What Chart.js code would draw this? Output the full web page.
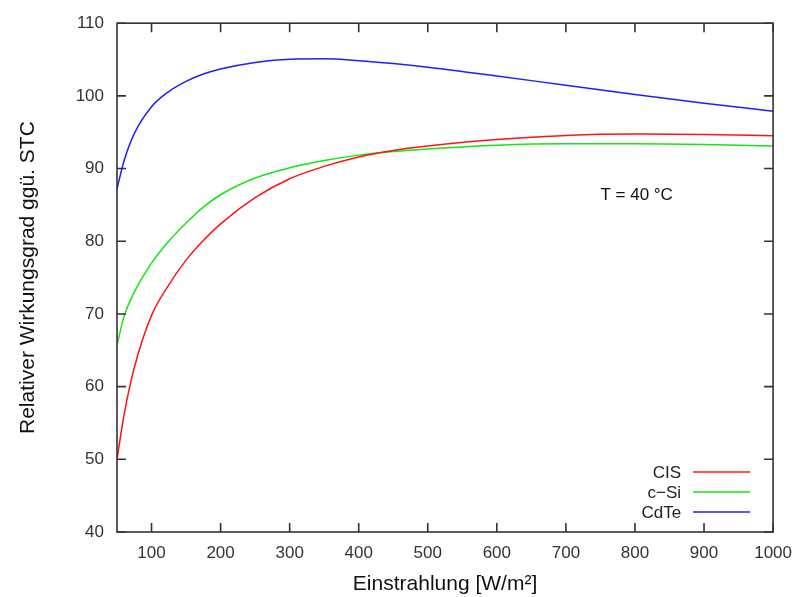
<!DOCTYPE html>
<html>
<head>
<meta charset="utf-8">
<script src="https://cdn.jsdelivr.net/npm/chart.js@4.4.0/dist/chart.umd.min.js"></script>
<style>
  html, body { margin: 0; padding: 0; background: #fff; }
  #wrap { width: 803px; height: 597px; }
</style>
</head>
<body>
<div id="wrap"><canvas id="chart" width="803" height="597"></canvas></div>
<script>
const irradiance = [50, 60, 75, 100, 125, 150, 175, 200, 250, 300, 350, 400, 450, 500, 600, 700, 800, 900, 1000];
const cisValues  = [50.0, 56.0, 62.6, 69.8, 74.0, 77.4, 80.1, 82.4, 86.0, 88.6, 90.3, 91.6, 92.5, 93.1, 94.0, 94.55, 94.75, 94.7, 94.5];
const csiValues  = [65.7, 69.6, 73.0, 77.0, 80.0, 82.5, 84.7, 86.4, 88.7, 90.1, 91.1, 91.85, 92.35, 92.7, 93.2, 93.4, 93.4, 93.3, 93.1];
const cdteValues = [87.2, 91.0, 94.8, 98.5, 100.6, 102.0, 103.0, 103.7, 104.6, 105.05, 105.1, 104.85, 104.45, 103.95, 102.75, 101.45, 100.2, 99.0, 97.9];

const seriesNames = ["CIS", "c\u2212Si", "CdTe"];
const seriesColors = ["rgb(255,20,20)", "rgb(20,230,20)", "rgb(30,30,255)"];
const xTicks = [100, 200, 300, 400, 500, 600, 700, 800, 900, 1000];
const yTicks = [40, 50, 60, 70, 80, 90, 100, 110];
const annotation = { text: "T = 40 \u00b0C", x: 750, y: 86.3 };

const FONT = "'Liberation Sans', Arial, sans-serif";
const toPoints = vals => vals.map((v, i) => ({ x: irradiance[i], y: v }));

const frame = {
    id: "frame",
    afterDatasetsDraw(chart) {
        const { ctx, chartArea: a, scales } = chart;
        ctx.save();
        ctx.strokeStyle = "#333";
        ctx.lineWidth = 1.6;
        ctx.strokeRect(a.left, a.top, a.right - a.left, a.bottom - a.top);
        ctx.beginPath();
        const len = 9;
        xTicks.forEach(v => {
            const px = scales.x.getPixelForValue(v);
            ctx.moveTo(px, a.bottom); ctx.lineTo(px, a.bottom - len);
            ctx.moveTo(px, a.top); ctx.lineTo(px, a.top + len);
        });
        yTicks.forEach(v => {
            const py = scales.y.getPixelForValue(v);
            ctx.moveTo(a.left, py); ctx.lineTo(a.left + len, py);
            ctx.moveTo(a.right, py); ctx.lineTo(a.right - len, py);
        });
        ctx.stroke();

        // annotation
        ctx.fillStyle = "#111";
        ctx.font = "17px " + FONT;
        ctx.textBaseline = "middle";
        ctx.textAlign = "left";
        ctx.fillText(annotation.text, scales.x.getPixelForValue(annotation.x), scales.y.getPixelForValue(annotation.y));

        // legend: text right-aligned, sample line to the right
        chart.data.datasets.forEach((ds, i) => {
            const y = a.bottom - 60 + i * 20;
            ctx.textAlign = "right";
            ctx.fillStyle = "#222";
            ctx.fillText(ds.label, a.right - 92, y + 1);
            ctx.strokeStyle = ds.borderColor;
            ctx.lineWidth = 1.5;
            ctx.beginPath();
            ctx.moveTo(a.right - 80, y);
            ctx.lineTo(a.right - 23, y);
            ctx.stroke();
        });
        ctx.restore();
    }
};

new Chart(document.getElementById("chart"), {
    type: "line",
    data: {
        datasets: [cisValues, csiValues, cdteValues].map((vals, i) => ({
            label: seriesNames[i],
            data: toPoints(vals),
            borderColor: seriesColors[i],
            borderWidth: 1.5,
            pointRadius: 0,
            fill: false,
            cubicInterpolationMode: "monotone"
        }))
    },
    options: {
        responsive: false,
        animation: false,
        layout: { padding: { left: 0, right: 28, top: 19, bottom: 0 } },
        plugins: { legend: { display: false }, tooltip: { enabled: false } },
        scales: {
            x: {
                type: "linear",
                min: 50,
                max: 1000,
                afterBuildTicks: s => { s.ticks = xTicks.map(v => ({ value: v })); },
                afterFit: s => { s.height = 65; },
                grid: { display: false, drawTicks: false },
                border: { display: false },
                ticks: { color: "#333", font: { family: FONT, size: 17 }, padding: 11, maxRotation: 0, callback: v => String(v) },
                title: {
                    display: true,
                    text: "Einstrahlung [W/m\u00b2]",
                    color: "#111",
                    font: { family: FONT, size: 21 },
                    padding: { top: 7, bottom: 0 }
                }
            },
            y: {
                min: 40,
                max: 110,
                afterBuildTicks: s => { s.ticks = yTicks.map(v => ({ value: v })); },
                afterFit: s => { s.width = 117; },
                grid: { display: false, drawTicks: false },
                border: { display: false },
                ticks: { color: "#333", font: { family: FONT, size: 17 }, padding: 13 },
                title: {
                    display: true,
                    text: "Relativer Wirkungsgrad gg\u00fc. STC",
                    color: "#111",
                    font: { family: FONT, size: 21 },
                    padding: { top: 16, bottom: 0 }
                }
            }
        }
    },
    plugins: [frame]
});
</script>
</body>
</html>
